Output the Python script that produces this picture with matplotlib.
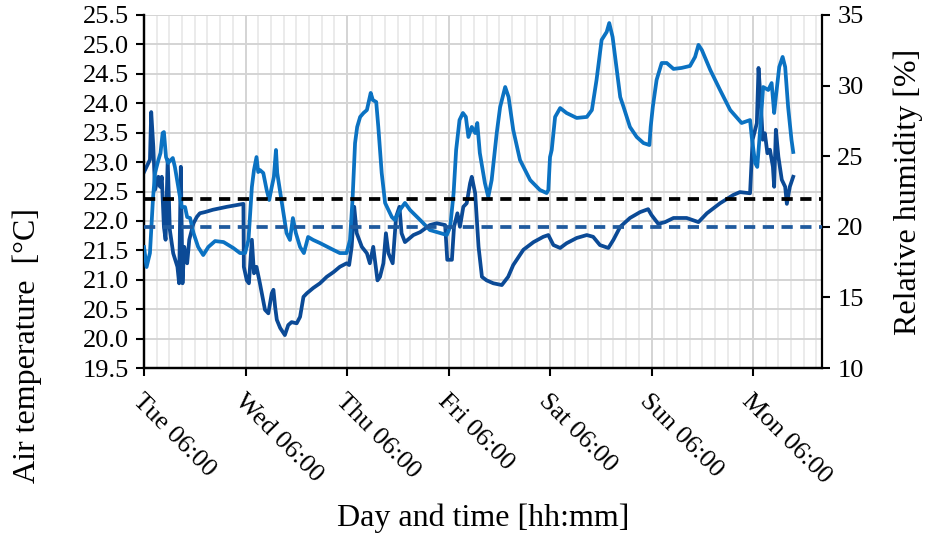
import numpy as np
import matplotlib
matplotlib.use("Agg")
import matplotlib.pyplot as plt
from matplotlib.ticker import MultipleLocator

plt.rcParams['font.family'] = ['Liberation Serif', 'DejaVu Serif']

# hours since Tue 06:00
temp_hours = [0.0, 1.4, 1.7, 2.2, 2.6, 3.4, 3.8, 4.2, 4.7, 5.1, 5.6, 6.1, 6.9, 7.9, 8.3, 8.7, 9.1, 9.5,
              10.2, 10.7, 11.7, 12.5, 13.2, 14.4, 16.3, 19.6, 23.5, 23.6, 24.3, 24.8, 25.5, 26.0, 26.6,
              27.4, 28.6, 29.4, 30.2, 30.6, 31.0, 31.4, 32.2, 33.3, 34.1, 34.9, 36.1, 36.9, 37.7, 38.5,
              40.0, 41.6, 43.2, 44.8, 46.3, 47.9, 48.5, 49.1, 49.7, 50.3, 51.5, 52.7, 53.4, 54.2, 55.2,
              55.8, 56.6, 57.2, 57.8, 58.8, 59.6, 60.4, 60.9, 61.7, 63.7, 65.3, 67.6, 69.2, 71.2, 71.7,
              72.8, 73.3, 74.1, 74.7, 75.5, 76.3, 77.1, 77.5, 78.3, 79.1, 79.9, 81.0, 82.6, 84.6, 86.1,
              87.3, 89.7, 92.1, 94.4, 95.6, 96.8, 98.4, 99.9, 102.3, 104.7, 106.2, 107.8, 109.8, 111.0,
              112.6, 114.9, 117.3, 119.2, 120.0, 121.6, 123.2, 125.2, 128.3, 131.1, 133.1, 136.2, 139.3,
              140.9, 143.3, 143.9, 144.9, 145.3, 145.8, 146.3, 146.8, 147.4, 148.0, 148.7, 149.0, 149.4,
              150.0, 150.8, 151.6, 152.0, 152.7, 153.5]
temp_values = [22.83, 23.04, 23.85, 23.26, 22.53, 22.75, 22.58, 22.75, 21.90, 21.68, 23.04, 21.85, 21.45,
               21.22, 20.94, 22.92, 20.94, 21.56, 21.28, 21.68, 21.96, 22.07, 22.13, 22.15, 22.19, 22.24,
               22.29, 21.22, 20.99, 20.94, 21.68, 21.11, 21.22, 20.94, 20.49, 20.43, 20.77, 20.83, 20.54,
               20.32, 20.18, 20.06, 20.23, 20.28, 20.26, 20.37, 20.71, 20.77, 20.86, 20.94, 21.05, 21.13,
               21.22, 21.28, 21.25, 21.56, 22.24, 21.79, 21.56, 21.45, 21.28, 21.56, 20.99, 21.05, 21.28,
               21.79, 21.45, 21.28, 22.07, 22.24, 21.79, 21.64, 21.76, 21.81, 21.93, 21.96, 21.93, 21.34,
               21.34, 21.90, 22.13, 21.90, 22.24, 22.30, 22.64, 22.75, 22.47, 21.56, 21.05, 20.99, 20.94,
               20.91, 21.05, 21.25, 21.51, 21.64, 21.73, 21.76, 21.59, 21.54, 21.62, 21.71, 21.76, 21.73,
               21.59, 21.54, 21.68, 21.90, 22.05, 22.15, 22.20, 22.10, 21.95, 21.98, 22.05, 22.05, 21.98,
               22.13, 22.30, 22.44, 22.49, 22.47, 23.38, 23.66, 24.60, 24.06, 23.38, 23.49, 23.15, 23.21,
               22.92, 22.58, 23.55, 23.09, 22.70, 22.58, 22.29, 22.58, 22.75]

rh_hours = [0.0, 0.6, 1.4, 2.1, 2.6, 3.4, 3.9, 4.4, 4.7, 5.2, 5.7, 6.8, 7.3, 8.1, 8.9, 9.7, 10.2, 10.9,
            11.7, 12.8, 14.0, 15.2, 16.8, 18.8, 21.1, 22.7, 23.9, 24.7, 25.5, 26.0, 26.6, 27.0, 27.4,
            28.2, 29.0, 29.6, 30.2, 30.7, 31.2, 31.5, 32.6, 33.7, 34.5, 35.2, 35.9, 36.9, 37.8, 38.8,
            40.0, 41.6, 44.8, 46.3, 47.9, 48.7, 49.3, 49.9, 50.4, 51.1, 51.9, 52.7, 53.6, 54.1, 54.9,
            55.4, 56.2, 57.0, 57.8, 58.6, 59.3, 60.5, 61.7, 62.9, 65.3, 67.6, 70.0, 71.6, 72.4, 73.2,
            73.8, 74.6, 75.4, 76.1, 76.7, 77.5, 78.3, 78.8, 79.4, 80.6, 81.4, 82.2, 83.4, 84.2, 85.4,
            86.2, 87.3, 88.9, 91.3, 93.6, 95.2, 95.6, 96.0, 96.4, 97.2, 98.4, 99.9, 102.3, 104.7, 105.9,
            107.0, 108.2, 109.4, 110.0, 110.8, 112.6, 113.4, 114.9, 116.5, 118.1, 119.5, 119.8, 120.3,
            121.2, 122.4, 123.6, 125.2, 127.1, 129.1, 130.3, 131.1, 131.9, 133.9, 136.2, 138.6, 141.3,
            143.3, 143.7, 144.5, 145.0, 145.5, 146.4, 147.6, 148.4, 149.0, 149.4, 150.2, 151.0, 151.6,
            152.3, 153.1, 153.5]
rh_values = [18.57, 17.15, 18.14, 21.90, 23.81, 24.73, 25.23, 26.64, 26.71, 24.94, 24.52, 24.87, 24.24,
             22.82, 21.40, 21.40, 20.69, 20.62, 19.56, 18.57, 18.00, 18.57, 18.99, 18.92, 18.50, 18.14,
             18.14, 19.07, 22.82, 24.02, 24.94, 23.88, 24.02, 23.81, 22.61, 21.90, 22.82, 23.53, 25.44,
             23.81, 21.69, 19.56, 19.07, 20.62, 19.56, 18.57, 18.14, 19.28, 19.07, 18.85, 18.36, 18.14,
             18.14, 19.07, 21.90, 25.93, 27.07, 27.78, 28.06, 28.27, 29.48, 28.98, 28.84, 27.07, 23.81,
             21.69, 21.19, 20.69, 20.48, 21.19, 21.69, 21.19, 20.48, 19.77, 19.56, 19.42, 19.99, 22.39,
             25.44, 27.56, 28.06, 27.78, 26.36, 27.07, 26.64, 27.35, 25.23, 23.10, 22.11, 23.31, 26.64,
             28.48, 29.90, 29.19, 26.86, 24.73, 23.31, 22.61, 22.39, 22.61, 24.94, 25.44, 27.78, 28.41,
             28.06, 27.71, 27.78, 28.27, 30.40, 33.23, 33.80, 34.43, 33.44, 29.19, 28.48, 27.07, 26.36,
             25.93, 25.79, 27.07, 28.48, 30.40, 31.60, 31.60, 31.18, 31.25, 31.39, 32.03, 32.88, 32.52,
             31.10, 29.69, 28.27, 27.35, 27.56, 26.36, 24.52, 24.24, 26.15, 29.90, 29.69, 30.18, 28.06,
             29.19, 31.32, 32.03, 31.32, 28.48, 26.15, 25.30]

rh_limit_black = 22.0
rh_limit_blue = 20.0

day_labels = ['Tue 06:00', 'Wed 06:00', 'Thu 06:00', 'Fri 06:00', 'Sat 06:00', 'Sun 06:00', 'Mon 06:00']
day_ticks = [0, 24, 48, 72, 96, 120, 144]

dark_blue = '#0b4a96'
light_blue = '#0b72c2'

fig = plt.figure(figsize=(9.25, 5.35), dpi=100)
ax = fig.add_axes([0.1557, 0.3121, 0.7329, 0.6599])
ax2 = ax.twinx()

# temperature on the left axis
ax.plot(temp_hours, temp_values, color=dark_blue, lw=2.7, zorder=3)
ax.set_ylim(19.5, 25.5)
ax.yaxis.set_major_locator(MultipleLocator(0.5))
ax.yaxis.set_major_formatter(plt.FuncFormatter(lambda v, p: f"{v:.1f}"))
ax.set_xlim(0, 160.3)
ax.set_xticks(day_ticks)
ax.set_xticklabels(day_labels, rotation=-45, ha='left', va='top', rotation_mode='anchor')
ax.xaxis.set_minor_locator(MultipleLocator(3))
ax.grid(True, which='major', axis='both', color='#d4d4d4', lw=1.4)
ax.grid(True, which='minor', axis='x', color='#e8e8e8', lw=1.2)
ax.tick_params(axis='x', which='minor', length=0)
ax.tick_params(axis='x', which='major', length=6, width=1.5, labelsize=19, pad=10)
ax.tick_params(axis='y', which='major', length=6, width=1.5, labelsize=19, pad=5)
ax.set_ylabel('Air temperature  [°C]', fontsize=23)
ax.yaxis.set_label_coords(-0.150, 0.065)
ax.set_xlabel('Day and time [hh:mm]', fontsize=23, labelpad=11)

# humidity on the right axis
ax2.plot(rh_hours, rh_values, color=light_blue, lw=2.7, zorder=3)
ax2.axhline(rh_limit_black, color='black', lw=2.7, ls=(0, (3.0, 2.0)), zorder=4)
ax2.axhline(rh_limit_blue, color='#1f5a9e', lw=2.7, ls=(0, (3.0, 2.0)), zorder=4)
ax2.set_ylim(10, 35)
ax2.yaxis.set_major_locator(MultipleLocator(5))
ax2.tick_params(axis='y', length=6, width=1.5, labelsize=19, pad=5)
ax2.set_ylabel('Relative humidity [%]', fontsize=23)
ax2.yaxis.set_label_coords(1.105, 0.5)

for a in (ax, ax2):
    a.spines['top'].set_visible(False)
    for s in ('left', 'right', 'bottom'):
        a.spines[s].set_linewidth(1.6)
ax.spines['right'].set_visible(False)

fig.savefig('out.png', dpi=100)
